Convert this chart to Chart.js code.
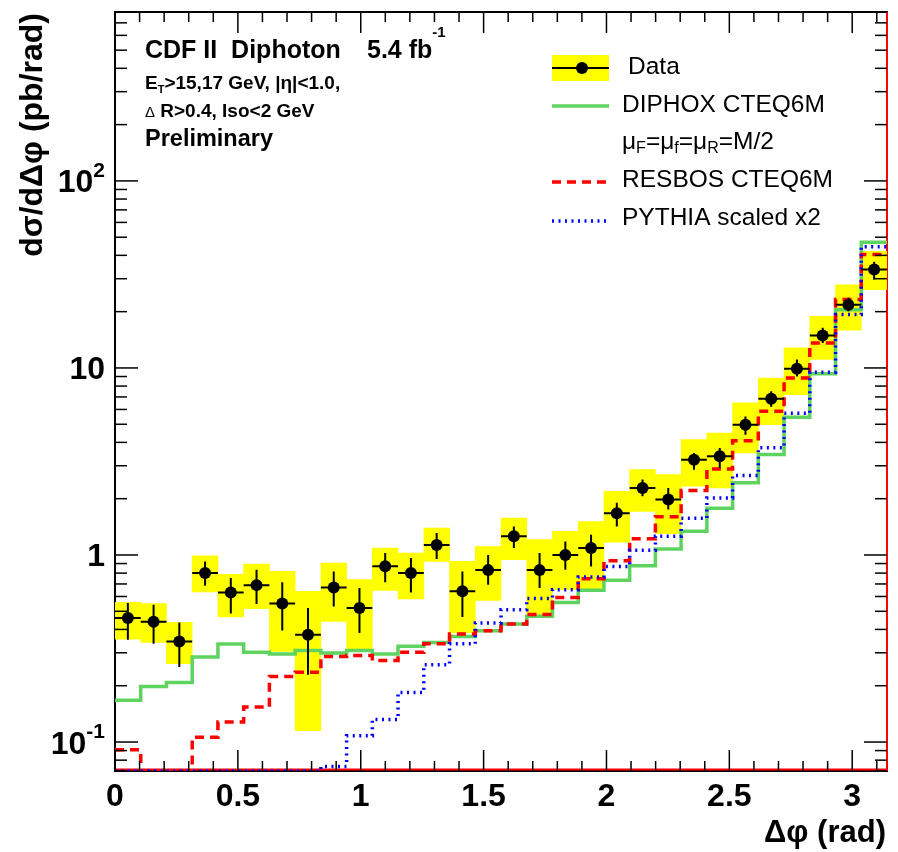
<!DOCTYPE html>
<html>
<head>
<meta charset="utf-8">
<title>CDF II Diphoton</title>
<script src="https://cdn.jsdelivr.net/npm/chart.js@4.4.1/dist/chart.umd.min.js"></script>
<style>
  html, body { margin: 0; padding: 0; background: #fff; }
  canvas { display: block; }
</style>
</head>
<body>
<canvas id="graficoDiphoton" width="898" height="852"></canvas>
<script>
// Bordes de los 30 bins en Δφ (rad), de 0 a π
const bordesBins = [0, 0.1047, 0.2094, 0.3142, 0.4189, 0.5236, 0.6283, 0.7330, 0.8378, 0.9425,
  1.0472, 1.1519, 1.2566, 1.3614, 1.4661, 1.5708, 1.6755, 1.7802, 1.8850, 1.9897,
  2.0944, 2.1991, 2.3038, 2.4086, 2.5133, 2.6180, 2.7227, 2.8274, 2.9322, 3.0369, 3.1416];

// Datos medidos (pb/rad)
const datosValor = [0.46, 0.44, 0.345, 0.80, 0.63, 0.69, 0.55, 0.375, 0.67, 0.52,
  0.87, 0.80, 1.13, 0.64, 0.83, 1.26, 0.83, 1.00, 1.09, 1.67,
  2.28, 1.98, 3.23, 3.37, 4.97, 6.85, 9.9, 14.9, 21.8, 33.6];

// Error estadistico (barras negras)
const estatBajo = [0.352, 0.335, 0.252, 0.685, 0.486, 0.547, 0.395, 0.229, 0.531, 0.383,
  0.714, 0.631, 0.952, 0.466, 0.694, 1.09, 0.666, 0.835, 0.869, 1.42,
  2.06, 1.75, 2.86, 2.92, 4.4, 6.2, 9.0, 13.6, 20.1, 29.6];
const estatAlto = [0.553, 0.542, 0.436, 0.924, 0.753, 0.835, 0.714, 0.52, 0.817, 0.666,
  1.025, 0.964, 1.31, 0.817, 1.0, 1.42, 1.025, 1.18, 1.284, 1.9,
  2.53, 2.28, 3.51, 3.73, 5.5, 7.5, 11.1, 16.4, 23.7, 37];

// Error sistematico (cajas amarillas)
const sistBajo = [0.355, 0.341, 0.262, 0.634, 0.466, 0.516, 0.305, 0.115, 0.441, 0.312,
  0.647, 0.582, 0.924, 0.383, 0.572, 0.944, 0.48, 0.652, 0.652, 1.17,
  1.71, 1.30, 2.33, 2.28, 3.51, 4.97, 7.2, 11.1, 15.9, 26.2];
const sistAlto = [0.558, 0.549, 0.436, 0.99, 0.788, 0.895, 0.817, 0.639, 0.906, 0.738,
  1.09, 1.025, 1.394, 0.924, 1.11, 1.577, 1.21, 1.34, 1.51, 2.19,
  2.86, 2.69, 4.14, 4.49, 6.5, 8.83, 12.8, 18.9, 27.8, 42];

// Predicciones teoricas por bin
const diphox = [0.167, 0.198, 0.208, 0.285, 0.334, 0.302, 0.296, 0.309, 0.299, 0.309,
  0.296, 0.325, 0.341, 0.367, 0.394, 0.428, 0.470, 0.558, 0.647, 0.732,
  0.877, 1.077, 1.34, 1.78, 2.43, 3.45, 5.45, 9.3, 20.5, 47];
const resbos = [0.091, 0.07, 0.07, 0.106, 0.128, 0.154, 0.224, 0.236, 0.287, 0.29,
  0.273, 0.302, 0.335, 0.378, 0.394, 0.428, 0.48, 0.593, 0.747, 0.932,
  1.22, 1.6, 2.21, 2.88, 4.08, 5.86, 8.84, 13.6, 23.2, 40.4];
const pythia = [0.07, 0.07, 0.07, 0.07, 0.07, 0.07, 0.07, 0.07, 0.074, 0.108,
  0.132, 0.184, 0.259, 0.335, 0.433, 0.51, 0.586, 0.652, 0.763, 0.869,
  1.06, 1.26, 1.57, 2.02, 2.66, 3.74, 5.72, 9.47, 19.3, 44.5];

// Marcas de los ejes
const ticksX = [0, 0.5, 1, 1.5, 2, 2.5, 3];
const etiquetasX = ["0", "0.5", "1", "1.5", "2", "2.5", "3"];
const ticksY = [0.1, 1, 10, 100];
const etiquetasY = [["10", "-1"], ["1", ""], ["10", ""], ["10", "2"]];

const fuente = '"Liberation Sans", Arial, Helvetica, sans-serif';

// Centros de bin para los puntos de datos
const centros = datosValor.map((_, i) => (bordesBins[i] + bordesBins[i + 1]) / 2);

// Convierte una lista de valores por bin en puntos para una linea escalonada
function histograma(valores) {
    const puntos = valores.map((v, i) => ({ x: bordesBins[i], y: v }));
    puntos.push({ x: bordesBins[valores.length], y: valores[valores.length - 1] });
    return puntos;
}

const cajasSist = centros.map((c, i) => ({ x: c, y: [sistBajo[i], sistAlto[i]] }));
const barrasVert = [];
const barrasHoriz = [];
centros.forEach((c, i) => {
    barrasVert.push({ x: c, y: estatBajo[i] }, { x: c, y: estatAlto[i] }, { x: c, y: null });
    barrasHoriz.push({ x: bordesBins[i], y: datosValor[i] }, { x: bordesBins[i + 1], y: datosValor[i] }, { x: bordesBins[i + 1], y: null });
});
const puntosDatos = centros.map((c, i) => ({ x: c, y: datosValor[i] }));

// Dibuja texto con partes en superindice / subindice, devuelve el ancho
function textoCompuesto(ctx, partes, x, y, medir) {
    let ancho = 0;
    partes.forEach(p => {
        ctx.font = p.f;
        const w = ctx.measureText(p.t).width;
        if (!medir) ctx.fillText(p.t, x + ancho, y + (p.dy || 0));
        ancho += w;
    });
    return ancho;
}

const linea = (ctx, x1, y1, x2, y2) => { ctx.beginPath(); ctx.moveTo(x1, y1); ctx.lineTo(x2, y2); ctx.stroke(); };

// Plugin: marco (debajo de los datos), marcas hacia dentro, etiquetas, titulos, texto y leyenda
const marco = {
    id: "marco",
    beforeDatasetsDraw(chart) {
        const ctx = chart.ctx;
        const area = chart.chartArea;
        ctx.save();
        ctx.setLineDash([]);
        ctx.lineWidth = 2;
        ctx.strokeStyle = "#000";
        ctx.strokeRect(area.left, area.top, area.right - area.left, area.bottom - area.top);
        ctx.strokeStyle = "#ff0000";
        linea(ctx, area.right, area.top, area.right, area.bottom);
        linea(ctx, area.left, area.bottom - 1.5, area.right, area.bottom - 1.5);
        ctx.restore();
    },
    afterDatasetsDraw(chart) {
        const ctx = chart.ctx;
        const area = chart.chartArea;
        const escX = chart.scales.x;
        const escY = chart.scales.y;
        ctx.save();
        ctx.strokeStyle = "#000";
        ctx.fillStyle = "#000";
        ctx.lineWidth = 1.5;
        ctx.setLineDash([]);

        // marcas del eje x (abajo y arriba)
        for (let k = 0; k <= 31; k++) {
            const v = k / 10;
            if (v > escX.max) break;
            const px = escX.getPixelForValue(v);
            const largo = (k % 5 === 0) ? 21 : 10;
            linea(ctx, px, area.bottom, px, area.bottom - largo);
            linea(ctx, px, area.top, px, area.top + largo);
        }
        // marcas del eje y (izquierda y derecha)
        for (let d = -2; d <= 2; d++) {
            for (let m = 1; m <= 9; m++) {
                const v = m * Math.pow(10, d);
                if (v < escY.min - 1e-9 || v > escY.max + 1e-9) continue;
                const py = escY.getPixelForValue(v);
                const largo = m === 1 ? 23 : 12;
                linea(ctx, area.left, py, area.left + largo, py);
                linea(ctx, area.right, py, area.right - largo, py);
            }
        }

        // etiquetas eje x
        ctx.font = "bold 32px " + fuente;
        ctx.textAlign = "center";
        ctx.textBaseline = "alphabetic";
        ticksX.forEach((v, i) => ctx.fillText(etiquetasX[i], escX.getPixelForValue(v), area.bottom + 35));

        // etiquetas eje y con exponente
        ctx.textAlign = "left";
        ticksY.forEach((v, i) => {
            const py = escY.getPixelForValue(v);
            const partes = [{ t: etiquetasY[i][0], f: "bold 32px " + fuente, dy: 11.5 }];
            if (etiquetasY[i][1]) partes.push({ t: etiquetasY[i][1], f: "bold 21px " + fuente, dy: -4 });
            const ancho = textoCompuesto(ctx, partes, 0, py, true);
            textoCompuesto(ctx, partes, area.left - 10 - ancho, py, false);
        });

        // titulos de ejes
        ctx.textAlign = "right";
        ctx.font = "bold 31px " + fuente;
        ctx.fillText("Δφ (rad)", area.right - 1, 842);
        ctx.save();
        ctx.translate(42, area.top + 1);
        ctx.rotate(-Math.PI / 2);
        ctx.font = "bold 32px " + fuente;
        ctx.fillText("dσ/dΔφ (pb/rad)", 0, 0);
        ctx.restore();

        // bloque de texto arriba a la izquierda
        ctx.textAlign = "left";
        ctx.font = "bold 25px " + fuente;
        ctx.fillText("CDF II  Diphoton", 145, 57.5);
        textoCompuesto(ctx, [
            { t: "5.4 fb", f: "bold 25px " + fuente },
            { t: "-1", f: "bold 15px " + fuente, dy: -21 }
        ], 367, 57.5, false);
        textoCompuesto(ctx, [
            { t: "E", f: "bold 19px " + fuente },
            { t: "T", f: "bold 11px " + fuente, dy: 4 },
            { t: ">15,17 GeV, |η|<1.0,", f: "bold 19px " + fuente }
        ], 145, 89, false);
        textoCompuesto(ctx, [
            { t: "Δ", f: "15px " + fuente },
            { t: " R>0.4, Iso<2 GeV", f: "bold 19px " + fuente }
        ], 145, 116.5, false);
        ctx.font = "bold 23.5px " + fuente;
        ctx.fillText("Preliminary", 145, 145.5);

        // leyenda
        const lx1 = 552, lx2 = 609;
        ctx.fillStyle = "#ffff00";
        ctx.fillRect(lx1, 55, lx2 - lx1, 26);
        ctx.strokeStyle = "#000";
        ctx.lineWidth = 2;
        linea(ctx, lx1, 68, lx2, 68);
        ctx.fillStyle = "#000";
        ctx.beginPath();
        ctx.arc(582, 68, 6, 0, Math.PI * 2);
        ctx.fill();

        ctx.lineWidth = 3.5;
        ctx.strokeStyle = "#5fd35f";
        linea(ctx, lx1, 106, lx2, 106);
        ctx.strokeStyle = "#ff0000";
        ctx.setLineDash([9, 6]);
        linea(ctx, lx1, 182, lx2, 182);
        ctx.strokeStyle = "#0000ff";
        ctx.setLineDash([2, 4.5]);
        linea(ctx, lx1, 221, lx2, 221);
        ctx.setLineDash([]);

        ctx.textBaseline = "middle";
        const fL = "24.5px " + fuente, fS = "16px " + fuente;
        ctx.font = fL;
        ctx.fillText("Data", 628, 67);
        ctx.fillText("DIPHOX CTEQ6M", 622, 105);
        ctx.fillText("RESBOS CTEQ6M", 622, 180);
        ctx.fillText("PYTHIA scaled x2", 622, 218);
        textoCompuesto(ctx, [
            { t: "μ", f: fL }, { t: "F", f: fS, dy: 7 },
            { t: "=μ", f: fL }, { t: "f", f: fS, dy: 7 },
            { t: "=μ", f: fL }, { t: "R", f: fS, dy: 7 },
            { t: "=M/2", f: fL }
        ], 622, 142, false);

        ctx.restore();
    }
};

const ctx = document.getElementById("graficoDiphoton").getContext("2d");

new Chart(ctx, {
    type: "line",
    data: {
        datasets: [
            { type: "bar", data: cajasSist, backgroundColor: "#ffff00", borderWidth: 0,
              barPercentage: 1, categoryPercentage: 1, order: 6 },
            { data: histograma(diphox), borderColor: "#5fd35f", borderWidth: 3.5,
              stepped: "before", pointRadius: 0, order: 4 },
            { data: histograma(resbos), borderColor: "#ff0000", borderWidth: 3.5, borderDash: [9, 6],
              stepped: "before", pointRadius: 0, order: 3 },
            { data: histograma(pythia), borderColor: "#0000ff", borderWidth: 3.5, borderDash: [2, 4.5],
              stepped: "before", pointRadius: 0, order: 2 },
            { data: barrasVert, borderColor: "#000", borderWidth: 2, pointRadius: 0, order: 1 },
            { data: barrasHoriz, borderColor: "#000", borderWidth: 2, pointRadius: 0, order: 1 },
            { data: puntosDatos, showLine: false, pointRadius: 6, pointBackgroundColor: "#000",
              pointBorderWidth: 0, order: 0 }
        ]
    },
    options: {
        responsive: false,
        animation: false,
        events: [],
        layout: { padding: { left: 115, top: 12, right: 11, bottom: 81 } },
        plugins: { legend: { display: false }, tooltip: { enabled: false } },
        scales: {
            x: { type: "linear", min: 0, max: Math.PI, offset: false, display: false,
                 ticks: { stepSize: 0.5 } },
            y: { type: "logarithmic", min: 0.07, max: 800, display: false }
        }
    },
    plugins: [marco]
});
</script>
</body>
</html>
